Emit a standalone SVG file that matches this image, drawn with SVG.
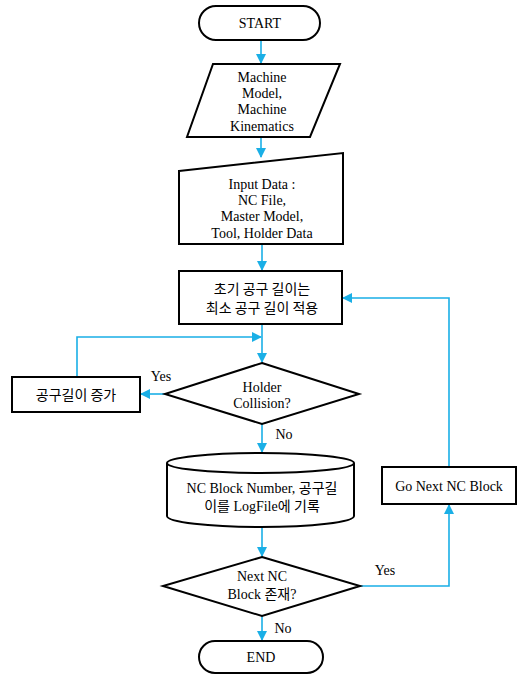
<svg xmlns="http://www.w3.org/2000/svg" width="518" height="675" viewBox="0 0 518 675">
<style>
.s{fill:#fff;stroke:#000;stroke-width:2}
.t{font-family:'Liberation Serif','Noto Sans CJK KR',serif;font-size:14px;fill:#000;text-anchor:middle}
.k{font-family:'Noto Sans CJK KR',sans-serif;font-size:14px}
.c{fill:none;stroke:#1AAFE6;stroke-width:1.6}
</style>
<defs>
<marker id="a" markerWidth="10" markerHeight="10" refX="9" refY="5" orient="auto" markerUnits="userSpaceOnUse">
<path d="M0,0 L10,5 L0,10 z" fill="#1AAFE6"/>
</marker>
</defs>
<g id="connectors">
<path class="c" d="M261,40 V63" marker-end="url(#a)"/>
<path class="c" d="M261,137 V157" marker-end="url(#a)"/>
<path class="c" d="M262,244 V270" marker-end="url(#a)"/>
<path class="c" d="M262,324 V362" marker-end="url(#a)"/>
<path class="c" d="M77,377 V337 H261" marker-end="url(#a)"/>
<path class="c" d="M165,394 H141" marker-end="url(#a)"/>
<path class="c" d="M262,424 V452" marker-end="url(#a)"/>
<path class="c" d="M262,527 V556" marker-end="url(#a)"/>
<path class="c" d="M360,586 H449 V505" marker-end="url(#a)"/>
<path class="c" d="M449,467 V298 H343" marker-end="url(#a)"/>
<path class="c" d="M262,616 V640" marker-end="url(#a)"/>
</g>
<g id="start">
<rect class="s" x="199" y="6" width="121" height="34" rx="17"/>
<text class="t" x="260" y="28">START</text>
</g>
<g id="machine">
<polygon class="s" points="213,64 340,64 310,137 187,137"/>
<text class="t" x="262" y="82">Machine</text>
<text class="t" x="262" y="98">Model,</text>
<text class="t" x="262" y="114">Machine</text>
<text class="t" x="262" y="131">Kinematics</text>
</g>
<g id="input">
<polygon class="s" points="179,171 343,153 343,244 179,244"/>
<text class="t" x="262" y="189">Input Data :</text>
<text class="t" x="262" y="205">NC File,</text>
<text class="t" x="262" y="221">Master Model,</text>
<text class="t" x="262" y="238">Tool, Holder Data</text>
</g>
<g id="init">
<rect class="s" x="179" y="271" width="163" height="53"/>
<text class="t k" x="262" y="294">초기 공구 길이는</text>
<text class="t k" x="262" y="313">최소 공구 길이 적용</text>
</g>
<g id="collision">
<polygon class="s" points="262,363 359,394 262,424 165,394"/>
<text class="t" x="262" y="392">Holder</text>
<text class="t" x="262" y="408">Collision?</text>
<text class="t" x="161" y="381">Yes</text>
<text class="t" x="284" y="439">No</text>
</g>
<g id="increase">
<rect class="s" x="12" y="377" width="128" height="35"/>
<text class="t k" x="76" y="400">공구길이 증가</text>
</g>
<g id="log">
<path class="s" d="M167,463 A93.5,10 0 0 1 354,463 V516 A93.5,11 0 0 1 167,516 Z"/>
<path class="s" d="M167,463 A93.5,10 0 0 0 354,463" fill="none"/>
<text class="t" x="262" y="493">NC Block Number, 공구길</text>
<text class="t" x="262" y="511">이를 LogFile에 기록</text>
</g>
<g id="next">
<polygon class="s" points="262,557 360,586 262,616 163,586"/>
<text class="t" x="262" y="581">Next NC</text>
<text class="t" x="262" y="599">Block 존재?</text>
<text class="t" x="385" y="575">Yes</text>
<text class="t" x="283" y="633">No</text>
</g>
<g id="gonext">
<rect class="s" x="382" y="467" width="134" height="37"/>
<text class="t" x="449" y="491">Go Next NC Block</text>
</g>
<g id="end">
<rect class="s" x="199" y="641" width="124" height="32" rx="16"/>
<text class="t" x="261" y="662">END</text>
</g>
</svg>
